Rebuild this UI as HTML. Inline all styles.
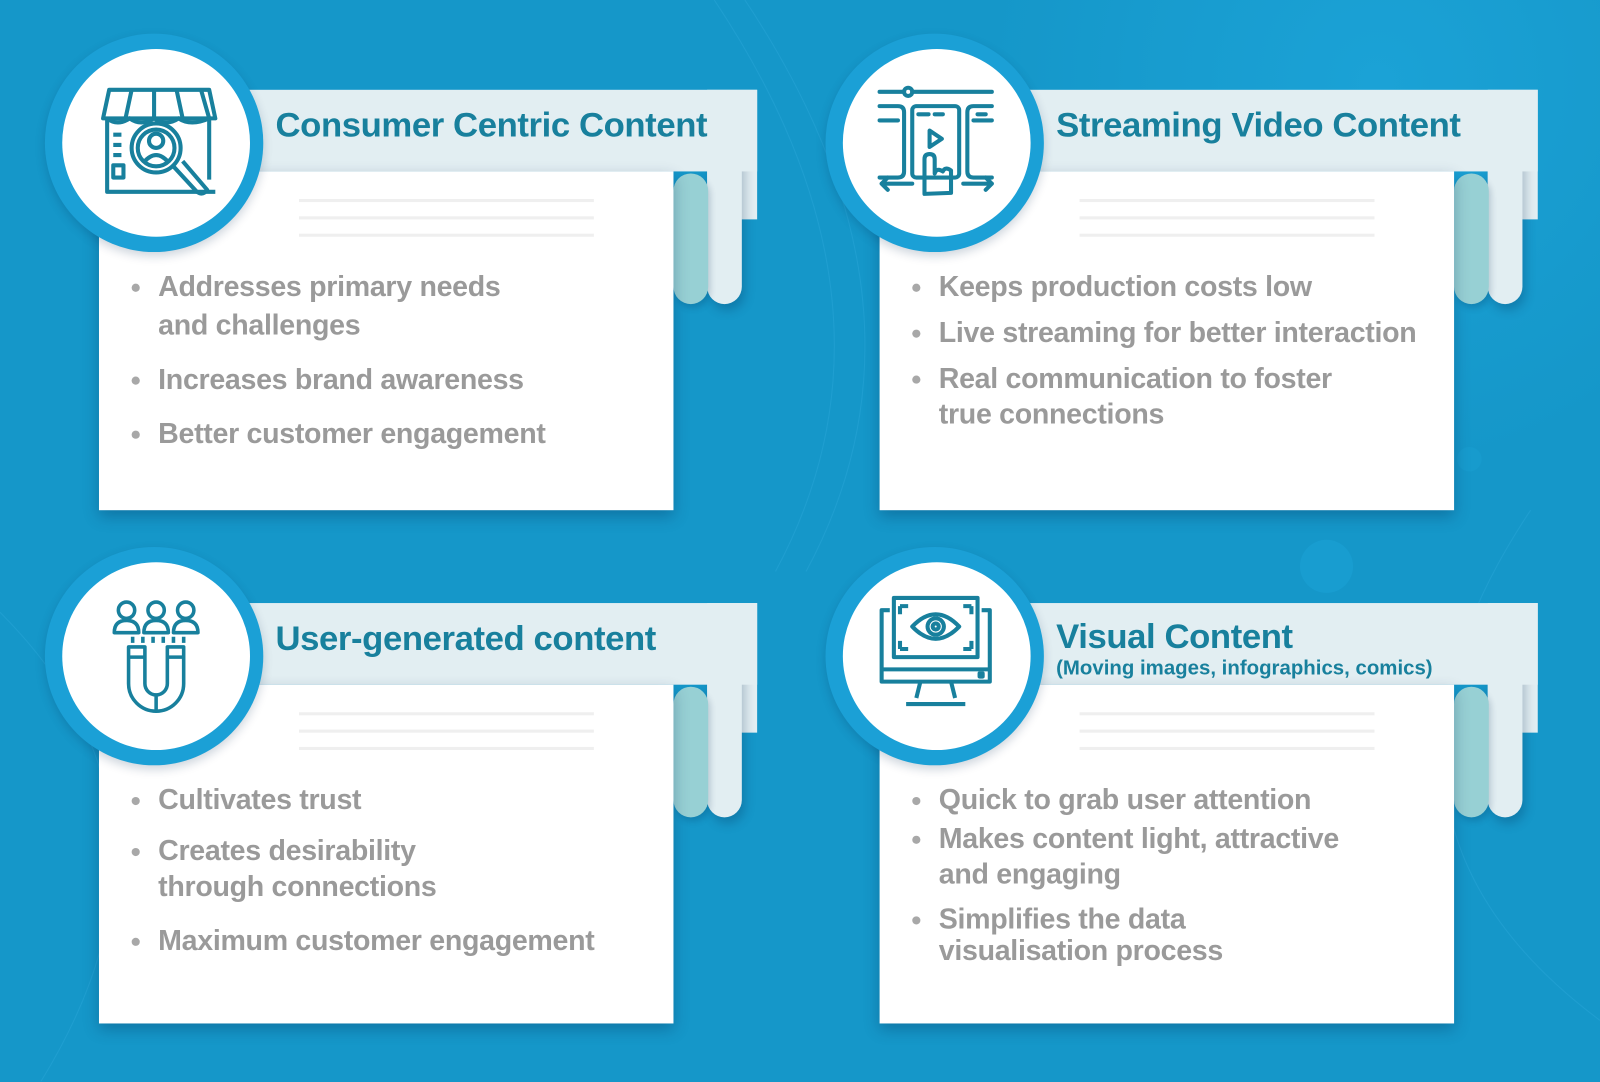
<!DOCTYPE html>
<html><head><meta charset="utf-8"><style>
html,body{margin:0;padding:0;}
body{width:1600px;height:1082px;overflow:hidden;background:#1597c9;}
#stage{position:absolute;left:0;top:0;width:1568px;height:1060px;transform:scale(1.020408);transform-origin:0 0;
background:radial-gradient(circle at 1350px 80px,#1ba2d6 0,#1597c9 380px),#1597c9;overflow:hidden;font-family:"Liberation Sans",sans-serif;}
.card{position:absolute;left:0;top:0;width:784px;height:530px;}
.card div{position:absolute;}
.hdr{left:235px;top:88px;width:507px;height:80px;background:#e2eef2;}
.strip{left:693px;top:88px;width:49px;height:127px;background:#e2eef2;}
.lpill{left:693px;top:150px;width:34px;height:148px;border-radius:0 0 17px 17px;background:#e2eef2;box-shadow:3px 6px 10px rgba(0,40,80,.25);}
.tpill{left:660px;top:170px;width:34px;height:128px;border-radius:17px;background:#97d0d4;box-shadow:2px 4px 6px rgba(0,40,80,.2);}
.white{left:97px;top:168px;width:563px;height:332px;background:#fff;box-shadow:0 6px 14px rgba(0,40,80,.3);}
.ln{left:293px;width:289px;height:3px;background:#efefef;}
.ring{left:44px;top:33px;width:214px;height:214px;border-radius:50%;background:#1ba0d6;box-shadow:0 4px 10px rgba(0,40,80,.2);}
.inner{left:61px;top:48px;width:184px;height:184px;border-radius:50%;background:#fff;}
.title{left:270px;top:104px;font-weight:bold;font-size:34px;color:#18809d;white-space:nowrap;letter-spacing:-0.4px;}
.sub{left:1035px;font-weight:bold;font-size:20px;color:#18809d;white-space:nowrap;}
.b{left:155px;font-weight:bold;font-size:28px;color:#9a9a9a;white-space:nowrap;letter-spacing:-0.3px;line-height:32px;}
.b::before{content:"";position:absolute;left:-26px;top:13px;width:8px;height:8px;border-radius:50%;background:#a8a8a8;}
.b.nb::before{display:none;}
svg.ic{position:absolute;}
</style></head><body><div id="stage">
<svg width="1568" height="1060" style="position:absolute;left:0;top:0" fill="none" stroke="#2aa6d8" stroke-width="1" opacity=".5">
<circle cx="1300" cy="555" r="26" fill="#1ca3d8" stroke="none"/>
<circle cx="1440" cy="450" r="12" fill="#1a9fd2" stroke="none"/>
<path d="M700 0 Q900 300 760 560"/><path d="M730 0 Q930 300 790 560"/><path d="M1500 500 Q1300 800 1568 1000"/><path d="M0 600 Q200 800 40 1060"/>
</svg>

<!-- Card 1 -->
<div class="card" style="left:0;top:0">
<div class="strip"></div><div class="lpill"></div><div class="hdr"></div><div class="tpill"></div><div class="white"></div>
<div class="ln" style="top:195px"></div><div class="ln" style="top:212px"></div><div class="ln" style="top:229px"></div>
<div class="ring"></div><div class="inner"></div>
<div class="title">Consumer Centric Content</div>
<div class="b" style="top:265px">Addresses primary needs</div>
<div class="b nb" style="top:303px">and challenges</div>
<div class="b" style="top:356px">Increases brand awareness</div>
<div class="b" style="top:409px">Better customer engagement</div>
</div>
<svg class="ic" style="left:95px;top:82px" width="120" height="120" viewBox="0 0 120 120" fill="none" stroke="#18809d" stroke-width="4" stroke-linejoin="round">
<path d="M12 6h98l6 28H6z"/><path d="M34 6l-6 28M56 6v28M78 6l6 28M102 6l8 28"/>
<path d="M10 34v72h106M110 34v60"/><path d="M10 34q10 8 22 0q11 8 24 0q12 8 24 0q12 8 30 0"/>
<path d="M16 50h8M16 60h8M16 70h8"/><rect x="16" y="80" width="10" height="12"/>
<circle cx="58" cy="63" r="24"/><circle cx="58" cy="63" r="18"/><circle cx="58" cy="56" r="7"/><path d="M46 77q12-14 24 0"/>
<path d="M74 80l24 26q6 4 10-2L84 76"/>
</svg>

<!-- Card 2 -->
<div class="card" style="left:765px;top:0">
<div class="strip"></div><div class="lpill"></div><div class="hdr"></div><div class="tpill"></div><div class="white"></div>
<div class="ln" style="top:195px"></div><div class="ln" style="top:212px"></div><div class="ln" style="top:229px"></div>
<div class="ring"></div><div class="inner"></div>
<div class="title">Streaming Video Content</div>
<div class="b" style="top:265px">Keeps production costs low</div>
<div class="b" style="top:310px">Live streaming for better interaction</div>
<div class="b" style="top:355px">Real communication to foster</div>
<div class="b nb" style="top:390px">true connections</div>
</div>
<svg class="ic" style="left:858px;top:80px" width="120" height="120" viewBox="0 0 120 120" fill="none" stroke="#18809d" stroke-width="4" stroke-linecap="round" stroke-linejoin="round">
<path d="M4 10h24M36 10h78"/><circle cx="32" cy="10" r="4"/>
<path d="M4 24h18q6 0 6 6v58q0 6-6 6H4"/><path d="M114 24h-18q-6 0-6 6v58q0 6 6 6h18"/><path d="M4 38h18M114 38h-18"/>
<rect x="36" y="24" width="46" height="70" rx="4"/><path d="M42 32h10M58 32h8M100 32h8"/>
<path d="M53 48v16l12-8z"/>
<path d="M48 110V76q0-5 5-5t5 5v14q2-6 8-2q2-5 8-1v22z"/>
<path d="M6 100h30M114 100H86M12 94l-6 6 6 6M108 94l6 6-6 6"/>
</svg>

<!-- Card 3 -->
<div class="card" style="left:0;top:503px">
<div class="strip"></div><div class="lpill"></div><div class="hdr"></div><div class="tpill"></div><div class="white"></div>
<div class="ln" style="top:195px"></div><div class="ln" style="top:212px"></div><div class="ln" style="top:229px"></div>
<div class="ring"></div><div class="inner"></div>
<div class="title">User-generated content</div>
<div class="b" style="top:265px">Cultivates trust</div>
<div class="b" style="top:315px">Creates desirability</div>
<div class="b nb" style="top:350px">through connections</div>
<div class="b" style="top:403px">Maximum customer engagement</div>
</div>
<svg class="ic" style="left:100px;top:580px" width="110" height="125" viewBox="0 0 110 125" fill="none" stroke="#18809d" stroke-width="3.5" stroke-linejoin="round">
<circle cx="24" cy="18" r="8"/><circle cx="53" cy="18" r="8"/><circle cx="82" cy="18" r="8"/>
<path d="M12 40q0-12 12-12t12 12zM41 40q0-12 12-12t12 12zM70 40q0-12 12-12t12 12z"/>
<path d="M30 44v6M40 44v6M50 44v6M60 44v6M70 44v6M80 44v6"/>
<path d="M26 54h16v36a11 11 0 0 0 22 0V54h16v36a27 27 0 0 1 -54 0z"/><path d="M26 64h16M64 64h16M53 101v16"/>
</svg>

<!-- Card 4 -->
<div class="card" style="left:765px;top:503px">
<div class="strip"></div><div class="lpill"></div><div class="hdr"></div><div class="tpill"></div><div class="white"></div>
<div class="ln" style="top:195px"></div><div class="ln" style="top:212px"></div><div class="ln" style="top:229px"></div>
<div class="ring"></div><div class="inner"></div>
<div class="title" style="top:102px">Visual Content</div>
<div class="b" style="top:265px">Quick to grab user attention</div>
<div class="b" style="top:303px">Makes content light, attractive</div>
<div class="b nb" style="top:338px">and engaging</div>
<div class="b" style="top:382px">Simplifies the data</div>
<div class="b nb" style="top:413px">visualisation process</div>
</div>
<div class="sub" style="top:644px;position:absolute">(Moving images, infographics, comics)</div>
<svg class="ic" style="left:858px;top:582px" width="120" height="120" viewBox="0 0 120 120" fill="none" stroke="#18809d" stroke-width="4" stroke-linejoin="round">
<path d="M14 16H6v70h106V16h-8"/><path d="M6 74h106"/><path d="M44 86l-4 16M74 86l4 16M30 108h58"/>
<rect x="18" y="4" width="82" height="58"/>
<path d="M24 12v8M24 12h8M94 12v8M94 12h-8M24 54v-8M24 54h8M94 54v-8M94 54h-8"/>
<path d="M36 32q23-24 46 0q-23 24-46 0z"/><circle cx="59" cy="32" r="8"/><circle cx="59" cy="32" r="3"/>
<rect x="102" y="78" width="3" height="3" fill="#18809d"/>
</svg>
</div></body></html>
